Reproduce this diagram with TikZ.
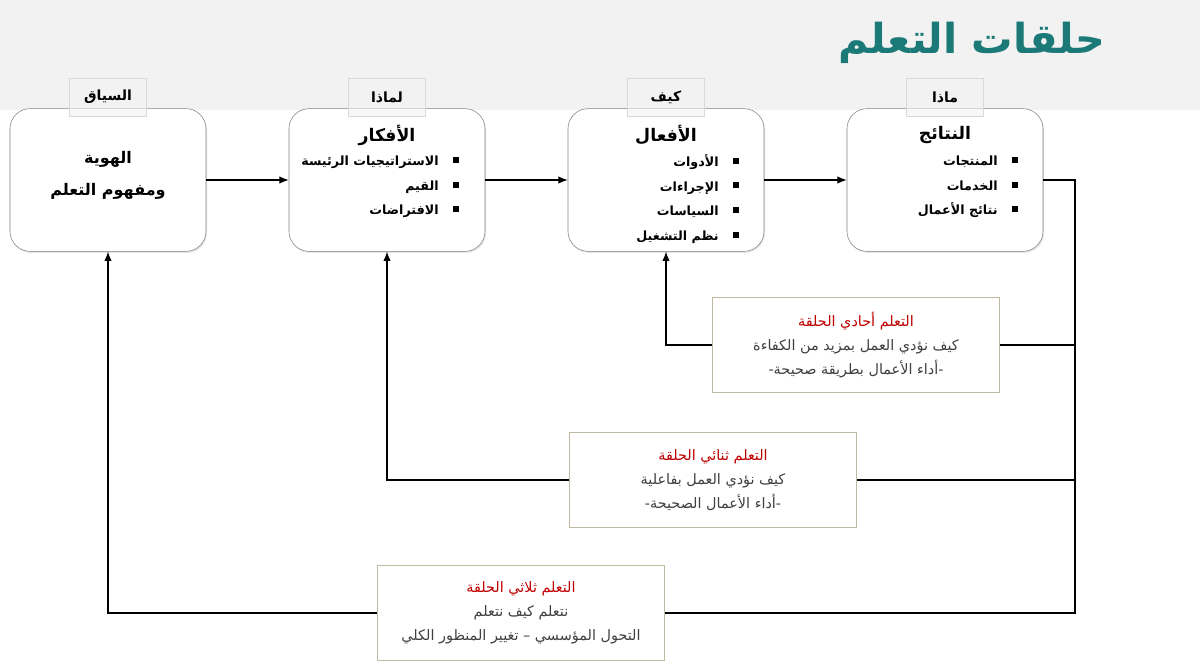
\documentclass[tikz,border=0pt]{standalone}
\usepackage{fontspec}
\newfontfamily\arabicfont[Script=Arabic]{DejaVu Sans}
\TeXXeTstate=1
\usetikzlibrary{arrows.meta, positioning, shadows}
\definecolor{TitleTeal}{RGB}{27,122,120}
\definecolor{BandGray}{RGB}{242,242,242}
\definecolor{LoopRed}{RGB}{192,0,0}
\definecolor{LoopBorder}{RGB}{190,186,160}
\definecolor{TextGray}{RGB}{64,64,64}
\tikzset{
  >={Latex[length=7pt,width=5.5pt]},
  % Boxes of the chain
  stage/.style={draw=black!50, fill=white, rounded corners=15pt, minimum width=147pt, minimum height=107pt,
    drop shadow={opacity=0.2, shadow xshift=0.8pt, shadow yshift=-1.2pt}},
  tab/.style={draw=black!15, fill=BandGray, fill opacity=0.6, text opacity=1, minimum width=58pt, minimum height=28.5pt,
    font=\arabicfont\bfseries\fontsize{10.5}{13}\selectfont},
  stage title/.style={font=\arabicfont\bfseries\fontsize{13}{16}\selectfont, align=center},
  stage list/.style={font=\arabicfont\bfseries\fontsize{9.5}{18.5}\selectfont, align=right, anchor=east},
  % Learning loops
  loop/.style={draw=LoopBorder, fill=white, minimum width=215pt, minimum height=71pt, align=center, text=TextGray,
    font=\arabicfont\fontsize{10.8}{18}\selectfont},
  link/.style={thick, black}
}
\newcommand\sq{\rule[2pt]{4.5pt}{4.5pt}}
\newcommand\bitem[1]{\beginR #1\endR\hspace{11pt}\sq}
\newcommand\ar[1]{\beginR #1\endR}

\begin{document}
\begin{tikzpicture}[x=0.75pt,y=-0.75pt]
  \useasboundingbox (0,0) rectangle (1200,669);
  \fill[BandGray] (0,0) rectangle (1200,110);
  % titolo
  \node[font=\arabicfont\bfseries\fontsize{31}{36}\selectfont, text=TitleTeal] (title) at (972,43) {\ar{حلقات التعلم}};

  % catena principale
  \node[stage] (context) at (108,180) {};
  \node[stage] (ideas) at (387,180) {};
  \node[stage] (actions) at (666,180) {};
  \node[stage] (results) at (945,180) {};
  \node[tab] (tabcontext) at (108,97) {\ar{السياق}};
  \node[tab] (tabideas) at (387,97) {\ar{لماذا}};
  \node[tab] (tabactions) at (666,97) {\ar{كيف}};
  \node[tab] (tabresults) at (945,97) {\ar{ماذا}};

  \node[stage title, font=\arabicfont\bfseries\fontsize{12}{24}\selectfont] (contexttext) at (108,175) {\ar{الهوية}\\ \ar{ومفهوم التعلم}};
  \node[stage title] (ideastitle) at (387,135) {\ar{الأفكار}};
  \node[stage title] (actionstitle) at (666,135) {\ar{الأفعال}};
  \node[stage title] (resultstitle) at (945,135) {\ar{النتائج}};
  \node[stage list] (ideaslist) at (464,187) {\bitem{الاستراتيجيات الرئيسة}\\ \bitem{القيم}\\ \bitem{الافتراضات}};
  \node[stage list] (actionslist) at (744,199) {\bitem{الأدوات}\\ \bitem{الإجراءات}\\ \bitem{السياسات}\\ \bitem{نظم التشغيل}};
  \node[stage list] (resultslist) at (1023,187) {\bitem{المنتجات}\\ \bitem{الخدمات}\\ \bitem{نتائج الأعمال}};

  \draw[link,->] (context) -- (ideas);
  \draw[link,->] (ideas) -- (actions);
  \draw[link,->] (actions) -- (results);

  % حلقات التعلم
  \node[loop] (single) at (856,345) {{\color{LoopRed}\ar{التعلم أحادي الحلقة}}\\ \ar{كيف نؤدي العمل بمزيد من الكفاءة}\\ \ar{-أداء الأعمال بطريقة صحيحة-}};
  \node[loop] (double) at (713,480) {{\color{LoopRed}\ar{التعلم ثنائي الحلقة}}\\ \ar{كيف نؤدي العمل بفاعلية}\\ \ar{-أداء الأعمال الصحيحة-}};
  \node[loop] (triple) at (521,613) {{\color{LoopRed}\ar{التعلم ثلاثي الحلقة}}\\ \ar{نتعلم كيف نتعلم}\\ \ar{التحول المؤسسي – تغيير المنظور الكلي}};

  \coordinate (railtop) at (1075,180);
  \coordinate (railbottom) at (1075,613);
  \draw[link] (results.east) -- (railtop) -- (railbottom) -- (triple.east);
  \draw[link] (railtop |- single.east) -- (single.east);
  \draw[link] (railtop |- double.east) -- (double.east);
  \draw[link,->] (single.west) -- (single.west -| actions.south) -- (actions.south);
  \draw[link,->] (double.west) -- (double.west -| ideas.south) -- (ideas.south);
  \draw[link,->] (triple.west) -- (triple.west -| context.south) -- (context.south);
\end{tikzpicture}
\end{document}
